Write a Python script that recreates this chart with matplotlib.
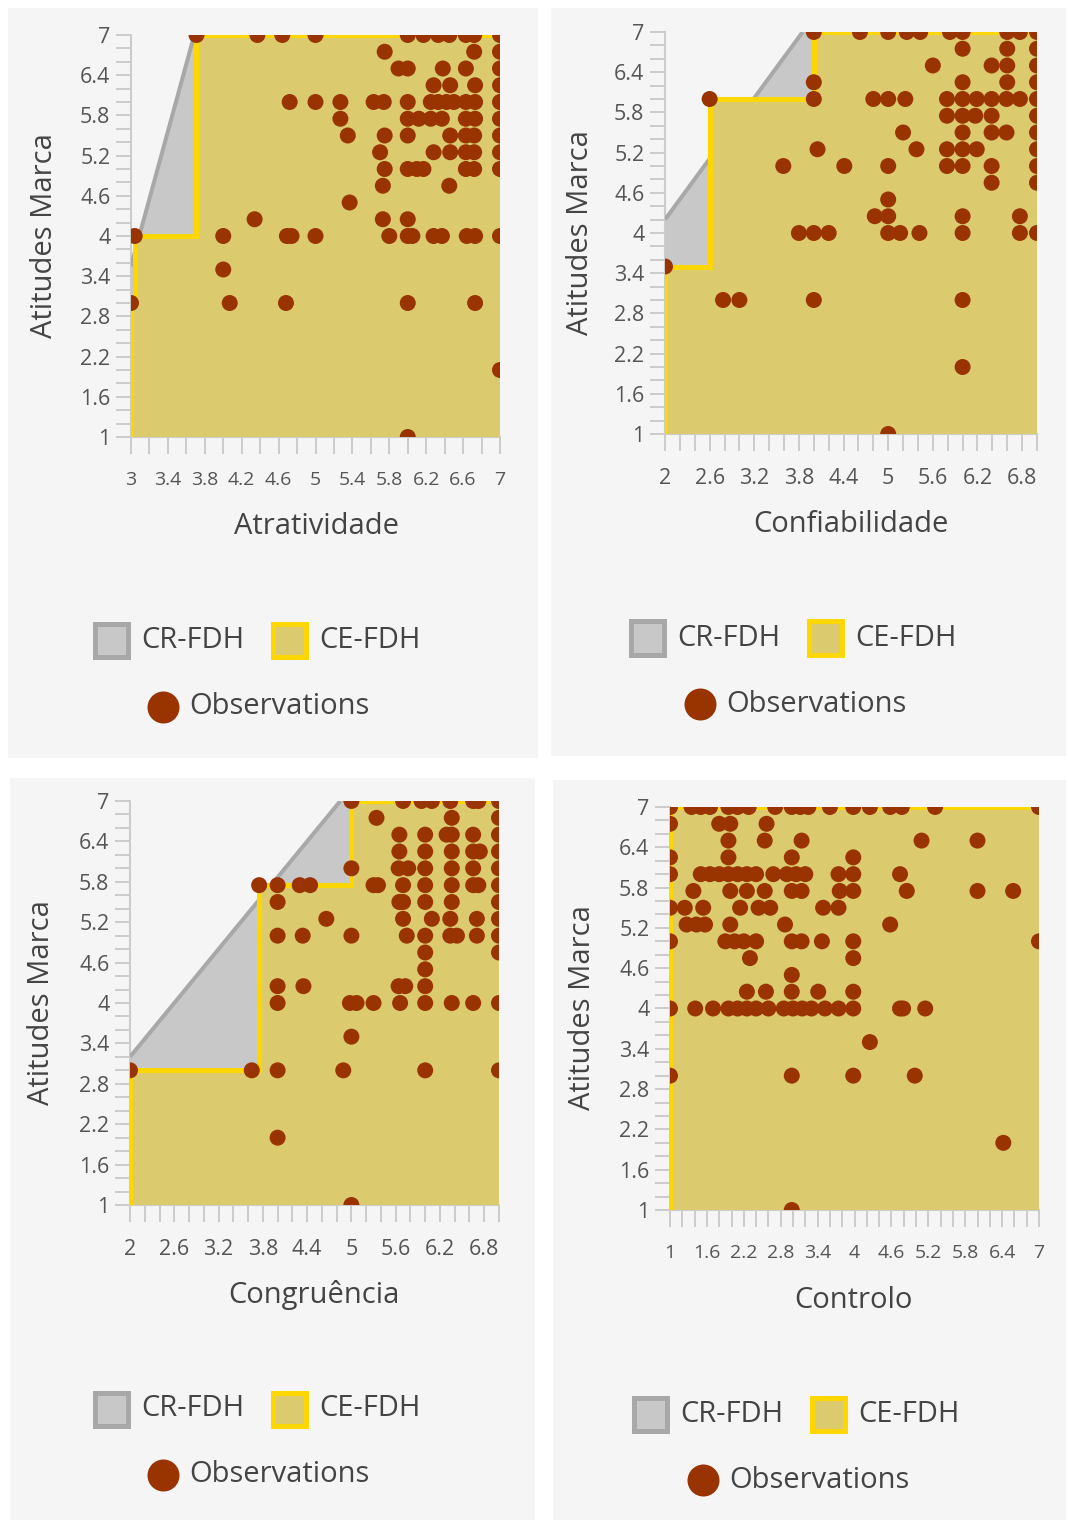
import numpy as np
import matplotlib
matplotlib.use("Agg")
import matplotlib.pyplot as plt
from matplotlib.patches import Rectangle, Polygon
from matplotlib.lines import Line2D

plt.rcParams['font.family'] = ['Open Sans', 'DejaVu Sans']

# ---------------- DATA ----------------
y_label = "Atitudes Marca"
x_labels = ["Atratividade", "Confiabilidade", "Congruência", "Controlo"]
legend_labels = ["CR-FDH", "CE-FDH", "Observations"]

y_ticks = [1, 1.6, 2.2, 2.8, 3.4, 4, 4.6, 5.2, 5.8, 6.4, 7]

# Panel 1: Atratividade
atr_xticks = [3, 3.4, 3.8, 4.2, 4.6, 5, 5.4, 5.8, 6.2, 6.6, 7]
atr_x = [3.71, 4.37, 4.64, 5.0, 6.0, 6.17, 6.33, 6.45, 6.63, 6.72, 7.0,
         5.75, 6.72, 7.0,
         5.9, 6.0, 6.38, 6.63, 7.0,
         6.28, 6.46, 6.73, 7.0,
         4.72, 5.0, 5.27, 5.63, 5.74, 6.0, 6.25, 6.33, 6.42, 6.5, 6.63, 6.73, 7.0,
         5.27, 6.0, 6.12, 6.25, 6.37, 6.63, 6.73, 7.0,
         5.35, 5.75, 6.0, 6.46, 6.63, 6.72, 7.0,
         5.7, 6.28, 6.46, 6.63, 6.72, 7.0,
         5.75, 6.0, 6.1, 6.17, 6.63, 6.72, 7.0,
         5.73, 6.45,
         5.37,
         4.34, 5.73, 6.0,
         3.04, 4.0, 4.69, 4.74, 5.0, 5.8, 6.0, 6.05, 6.28, 6.37, 6.64, 6.73, 7.0,
         4.0,
         3.0, 4.07, 4.68, 6.0, 6.73,
         7.0,
         6.0]
atr_y = [7] * 11 + [6.75] * 3 + [6.5] * 5 + [6.25] * 4 + [6.0] * 13 + [5.75] * 8 + \
        [5.5] * 7 + [5.25] * 6 + [5.0] * 7 + [4.75] * 2 + [4.5] * 1 + [4.25] * 3 + \
        [4.0] * 13 + [3.5] * 1 + [3.0] * 5 + [2.0] * 1 + [1.0] * 1
atr_cr_x = [3.0, 3.686]
atr_cr_y = [3.55, 7.0]

# Panel 2: Confiabilidade
conf_xticks = [2, 2.6, 3.2, 3.8, 4.4, 5, 5.6, 6.2, 6.8]
conf_x = [4.0, 4.62, 5.0, 5.25, 5.43, 5.83, 6.0, 6.6, 6.77, 7.0,
          6.0, 6.6, 7.0,
          5.6, 6.39, 6.6, 7.0,
          4.0, 6.0, 6.6, 7.0,
          2.6, 4.0, 4.8, 5.0, 5.23, 5.79, 6.0, 6.19, 6.39, 6.59, 6.77, 7.0,
          5.79, 6.0, 6.17, 6.39, 7.0,
          5.2, 6.0, 6.39, 6.59, 7.0,
          4.05, 5.38, 5.79, 6.0, 6.19, 7.0,
          3.59, 4.41, 5.0, 5.79, 6.0, 6.39, 7.0,
          6.39, 7.0,
          5.0,
          4.82, 5.0, 6.0, 6.77,
          3.8, 4.0, 4.2, 5.0, 5.16, 5.42, 6.0, 6.77, 7.0,
          2.0,
          2.78, 3.0, 4.0, 6.0,
          6.0,
          5.0]
conf_y = [7] * 10 + [6.75] * 3 + [6.5] * 4 + [6.25] * 4 + [6.0] * 12 + [5.75] * 5 + \
         [5.5] * 5 + [5.25] * 6 + [5.0] * 7 + [4.75] * 2 + [4.5] * 1 + [4.25] * 4 + \
         [4.0] * 9 + [3.5] * 1 + [3.0] * 4 + [2.0] * 1 + [1.0] * 1
conf_cr_x = [2.0, 3.85]
conf_cr_y = [4.2, 7.0]

# Panel 3: Congruência
cong_xticks = [2, 2.6, 3.2, 3.8, 4.4, 5, 5.6, 6.2, 6.8]
cong_x = [5.0, 5.7, 5.95, 6.09, 6.34, 6.65, 6.72, 7.0,
          5.34, 6.36, 7.0,
          5.65, 6.0, 6.29, 6.36, 6.65, 7.0,
          5.65, 6.0, 6.36, 6.65, 6.74, 7.0,
          5.0, 5.64, 5.77, 6.0, 6.36, 6.65, 7.0,
          3.75, 4.0, 4.3, 4.44, 5.3, 5.36, 5.7, 6.0, 6.36, 6.65, 6.72, 7.0,
          4.0, 5.65, 5.7, 6.0, 6.36, 7.0,
          4.66, 5.7, 6.09, 6.34, 6.7, 7.0,
          4.0, 4.34, 5.0, 5.75, 6.0, 6.34, 6.43, 6.7, 7.0,
          6.0, 7.0,
          6.0,
          4.0, 4.35, 5.64, 5.73, 6.0,
          4.0, 4.98, 5.07, 5.3, 5.66, 6.0, 6.36, 6.65, 7.0,
          5.0,
          2.0, 3.65, 4.0, 4.89, 6.0, 7.0,
          4.0,
          5.0]
cong_y = [7] * 8 + [6.75] * 3 + [6.5] * 6 + [6.25] * 6 + [6.0] * 7 + [5.75] * 12 + \
         [5.5] * 6 + [5.25] * 6 + [5.0] * 9 + [4.75] * 2 + [4.5] * 1 + [4.25] * 5 + \
         [4.0] * 9 + [3.5] * 1 + [3.0] * 6 + [2.0] * 1 + [1.0] * 1
cong_cr_x = [2.0, 4.85]
cong_cr_y = [3.2, 7.0]

# Panel 4: Controlo
ctrl_xticks = [1, 1.6, 2.2, 2.8, 3.4, 4, 4.6, 5.2, 5.8, 6.4, 7]
ctrl_x = [1.0, 1.35, 1.5, 1.65, 1.95, 2.1, 2.28, 2.71, 2.98, 3.12, 3.25, 3.6, 3.98, 4.25, 4.58, 4.77, 5.31, 7.0,
          1.0, 1.8, 1.98, 2.57,
          1.95, 2.54, 3.14, 5.09, 6.0,
          1.0, 1.95, 2.98, 3.98,
          1.0, 1.5, 1.65, 1.8, 1.95, 2.1, 2.25, 2.4, 2.68, 2.9, 3.05, 3.2, 3.74, 3.98, 4.74,
          1.38, 1.98, 2.25, 2.54, 2.98, 3.14, 3.76, 3.98, 4.85, 6.0, 6.58,
          1.0, 1.24, 1.54, 2.14, 2.44, 2.63, 3.49, 3.74,
          1.27, 1.43, 1.57, 1.98, 2.87, 4.58,
          1.0, 1.9, 2.05, 2.2, 2.4, 2.98, 3.14, 3.47, 3.98, 7.0,
          2.3, 3.98,
          2.98,
          2.25, 2.56, 2.98, 3.41, 3.98,
          1.0, 1.41, 1.7, 1.95, 2.1, 2.25, 2.4, 2.6, 2.85, 3.0, 3.15, 3.3, 3.52, 3.74, 3.98, 4.74, 4.79, 5.15,
          4.25,
          1.0, 2.98, 3.98, 4.98,
          6.42,
          2.98]
ctrl_y = [7] * 18 + [6.75] * 4 + [6.5] * 5 + [6.25] * 4 + [6.0] * 15 + [5.75] * 11 + \
         [5.5] * 8 + [5.25] * 6 + [5.0] * 10 + [4.75] * 2 + [4.5] * 1 + [4.25] * 5 + \
         [4.0] * 18 + [3.5] * 1 + [3.0] * 4 + [2.0] * 1 + [1.0] * 1
ctrl_cr_x = None
ctrl_cr_y = None

# ---------------- STYLE / LAYOUT ----------------
W, H = 1068, 1522
BG = '#f5f5f5'
KHAKI = '#dccb6e'
GOLD = '#ffd700'
GRAYF = '#c8c8c8'
GRAYL = '#a8a8a8'
DOT = '#993300'
TXT = '#444444'
TICKC = '#cccccc'
PX = 0.72  # points per pixel

fig = plt.figure(figsize=(W / 100, H / 100), dpi=100)
fig.patch.set_facecolor('white')


def fx(px):
    return px / W


def fy(py):
    return 1 - py / H


panels = [
    dict(x=atr_x, y=atr_y, xticks=atr_xticks, crx=atr_cr_x, cry=atr_cr_y, xlabel=x_labels[0],
         bg=(8, 8, 538, 758), ax=(131, 35, 500, 437), xl=(316, 527), yl=(45, 236),
         leg=(92, 641, 270, 163, 707), xfs=14),
    dict(x=conf_x, y=conf_y, xticks=conf_xticks, crx=conf_cr_x, cry=conf_cr_y, xlabel=x_labels[1],
         bg=(551, 8, 1066, 756), ax=(665, 32, 1037, 434), xl=(851, 524), yl=(580, 233),
         leg=(628, 638, 806, 700, 704), xfs=15.5),
    dict(x=cong_x, y=cong_y, xticks=cong_xticks, crx=cong_cr_x, cry=cong_cr_y, xlabel=x_labels[2],
         bg=(10, 778, 535, 1520), ax=(130, 801, 499, 1205), xl=(314, 1295), yl=(42, 1003),
         leg=(92, 1409, 270, 163, 1475), xfs=15.5),
    dict(x=ctrl_x, y=ctrl_y, xticks=ctrl_xticks, crx=ctrl_cr_x, cry=ctrl_cr_y, xlabel=x_labels[3],
         bg=(553, 780, 1066, 1520), ax=(670, 807, 1039, 1210), xl=(853, 1300), yl=(582, 1008),
         leg=(631, 1414, 809, 703, 1480), xfs=14),
]


def fmt(v):
    s = f"{v:.1f}"
    return s[:-2] if s.endswith(".0") else s


for p in panels:
    x0, y0, x1, y1 = p['bg']
    fig.add_artist(Rectangle((fx(x0), fy(y1)), fx(x1 - x0), (y1 - y0) / H,
                             transform=fig.transFigure, facecolor=BG, edgecolor='none', zorder=-5))
    l, t, r, b = p['ax']
    ax = fig.add_axes([fx(l), fy(b), (r - l) / W, (b - t) / H])
    ax.patch.set_visible(False)
    xs = np.asarray(p['x'], float)
    ys = np.asarray(p['y'], float)
    xmin_ax = p['xticks'][0]
    xmax_ax = 7.0
    ax.set_xlim(xmin_ax, xmax_ax)
    ax.set_ylim(1, 7)

    # CR-FDH region
    if p['crx'] is not None:
        cx, cy = p['crx'], p['cry']
        poly = [(xmin_ax, 1), (cx[0], cy[0]), (cx[1], cy[1]), (xmax_ax, 7), (xmax_ax, 1)]
        ax.add_patch(Polygon(poly, closed=True, facecolor=GRAYF, edgecolor='none', zorder=1))
        ax.plot(cx, cy, color=GRAYL, lw=4 * PX, zorder=2, solid_capstyle='butt')

    # CE-FDH step ceiling from data
    order = np.lexsort((ys, xs))
    sx, sy = xs[order], ys[order]
    px_, py_ = [sx[0]], [1.0]
    cur = None
    for xv, yv in zip(sx, sy):
        if cur is None:
            cur = yv
            px_.append(xv); py_.append(yv)
        elif yv > cur:
            px_ += [xv, xv]; py_ += [cur, yv]
            cur = yv
    px_.append(xmax_ax); py_.append(cur)
    fillpts = list(zip(px_, py_)) + [(xmax_ax, 1.0)]
    ax.add_patch(Polygon(fillpts, closed=True, facecolor=KHAKI, edgecolor='none', zorder=3))
    ax.plot(px_, py_, color=GOLD, lw=5 * PX, zorder=4, solid_joinstyle='miter')

    ax.scatter(xs, ys, s=(16 * PX) ** 2, color=DOT, edgecolors='none', zorder=5)

    # axes styling
    for s in ['top', 'right']:
        ax.spines[s].set_visible(False)
    for s in ['left', 'bottom']:
        ax.spines[s].set_color(TICKC)
        ax.spines[s].set_linewidth(1.5)
        ax.spines[s].set_zorder(0)
    ax.set_xticks(p['xticks'])
    ax.set_xticklabels([fmt(v) for v in p['xticks']])
    ax.set_xticks(np.round(np.arange(xmin_ax, 7.001, 0.2), 2), minor=True)
    ax.set_yticks(y_ticks)
    ax.set_yticklabels([fmt(v) for v in y_ticks])
    ax.set_yticks(np.round(np.arange(1, 7.001, 0.2), 2), minor=True)
    ax.tick_params(which='both', width=2 * PX, color=TICKC)
    ax.tick_params(axis='y', which='both', length=15 * PX)
    ax.tick_params(axis='x', which='both', length=17 * PX)
    ax.tick_params(axis='y', which='major', labelsize=15.5, labelcolor='#555555', pad=4)
    ax.tick_params(axis='x', which='major', labelsize=p['xfs'], labelcolor='#555555', pad=12.5)

    fig.text(fx(p['xl'][0]), fy(p['xl'][1]), p['xlabel'], ha='center', va='center',
             fontsize=21, color=TXT)
    fig.text(fx(p['yl'][0]), fy(p['yl'][1]), y_label, ha='center', va='center',
             rotation=90, fontsize=21, color=TXT)

    # legend (manual)
    sq1x, rowy, sq2x, cx_, cy_ = p['leg']
    size = 33
    fig.add_artist(Rectangle((fx(sq1x + 2.5), fy(rowy + size / 2)), size / W, size / H,
                             transform=fig.transFigure, facecolor=GRAYF, edgecolor=GRAYL,
                             lw=5 * PX))
    fig.text(fx(sq1x + 49), fy(rowy), legend_labels[0], ha='left', va='center',
             fontsize=21, color=TXT)
    fig.add_artist(Rectangle((fx(sq2x + 2.5), fy(rowy + size / 2)), size / W, size / H,
                             transform=fig.transFigure, facecolor=KHAKI, edgecolor=GOLD,
                             lw=5 * PX))
    fig.text(fx(sq2x + 49), fy(rowy), legend_labels[1], ha='left', va='center',
             fontsize=21, color=TXT)
    fig.add_artist(Line2D([fx(cx_)], [fy(cy_)], marker='o', markersize=32 * PX,
                          color=DOT, markeredgewidth=0, transform=fig.transFigure))
    fig.text(fx(cx_ + 26), fy(cy_), legend_labels[2], ha='left', va='center',
             fontsize=21, color=TXT)

fig.savefig('out.png', dpi=100, facecolor='white')
